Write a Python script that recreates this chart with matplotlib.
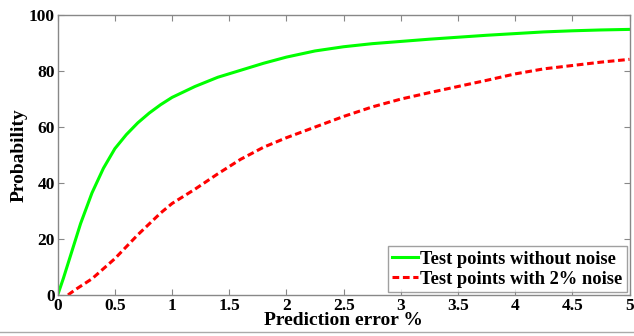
import matplotlib
matplotlib.use("Agg")
import matplotlib.pyplot as plt
from matplotlib.lines import Line2D

# data
x_green = [0, 0.05, 0.1, 0.2, 0.3, 0.4, 0.5, 0.6, 0.7, 0.8, 0.9, 1.0, 1.2, 1.4, 1.6, 1.8, 2.0,
           2.25, 2.5, 2.75, 3.0, 3.25, 3.5, 3.75, 4.0, 4.25, 4.5, 4.75, 5.0]
y_green = [0, 6, 12.5, 25.5, 36.5, 45.3, 52.3, 57.3, 61.5, 65, 68, 70.6, 74.5, 77.8, 80.3, 82.8, 85,
           87.2, 88.7, 89.8, 90.6, 91.4, 92.1, 92.8, 93.4, 94, 94.4, 94.7, 94.9]
x_red = [0.09, 0.15, 0.3, 0.5, 0.7, 0.9, 1.0, 1.2, 1.4, 1.6, 1.8, 2.0, 2.25, 2.5, 2.75,
         3.0, 3.25, 3.5, 3.75, 4.0, 4.25, 4.5, 4.75, 5.0]
y_red = [0, 1.8, 5.8, 13, 21.5, 29.3, 32.7, 37.8, 43.3, 48.5, 52.8, 56.2, 60, 63.8, 67.2,
         70.0, 72.3, 74.5, 76.7, 79, 80.8, 82, 83.2, 84.2]
labels = ["Test points without noise", "Test points with 2% noise"]
xticks = [0, 0.5, 1, 1.5, 2, 2.5, 3, 3.5, 4, 4.5, 5]
xticklabels = ["0", "0.5", "1", "1.5", "2", "2.5", "3", "3.5", "4", "4.5", "5"]
yticks = [0, 20, 40, 60, 80, 100]

plt.rcParams['font.family'] = ['Liberation Serif', 'DejaVu Serif']
plt.rcParams['font.weight'] = 'bold'

fig = plt.figure(figsize=(6.34, 3.36), dpi=100)
ax = fig.add_axes([0.091, 0.122, 0.902, 0.833])

ax.plot(x_green, y_green, color='#00ff00', lw=2.2, label=labels[0])
ax.plot(x_red, y_red, color='#ff0000', lw=2.2, ls=(0, (2.2, 1.2)), label=labels[1])

ax.set_xlim(0, 5)
ax.set_ylim(0, 100)
ax.set_xticks(xticks)
ax.set_xticklabels(xticklabels)
ax.set_yticks(yticks)
ax.tick_params(direction='in', top=True, right=True, length=4, color='#888888',
               labelsize=12.5, pad=2)
for lab in ax.get_xticklabels() + ax.get_yticklabels():
    lab.set_fontweight('bold')
for s in ax.spines.values():
    s.set_color('#888888')
    s.set_linewidth(1.0)

ax.set_xlabel("Prediction error %", fontsize=14, fontweight='bold', labelpad=-1)
ax.set_ylabel("Probability", fontsize=14, fontweight='bold', labelpad=1)

leg = ax.legend(loc='lower right', frameon=True, fancybox=False,
                handlelength=1.4, handletextpad=0.1, borderpad=0.25, labelspacing=0.15,
                borderaxespad=0.15, prop={'weight': 'bold', 'size': 13.3})
leg.get_frame().set_edgecolor('#888888')
leg.get_frame().set_linewidth(1.0)

fig.add_artist(Line2D([0, 1], [1 - 331.5 / 336] * 2, transform=fig.transFigure,
                      color='#aaaaaa', lw=1.0))

fig.savefig("out.png", dpi=100)
